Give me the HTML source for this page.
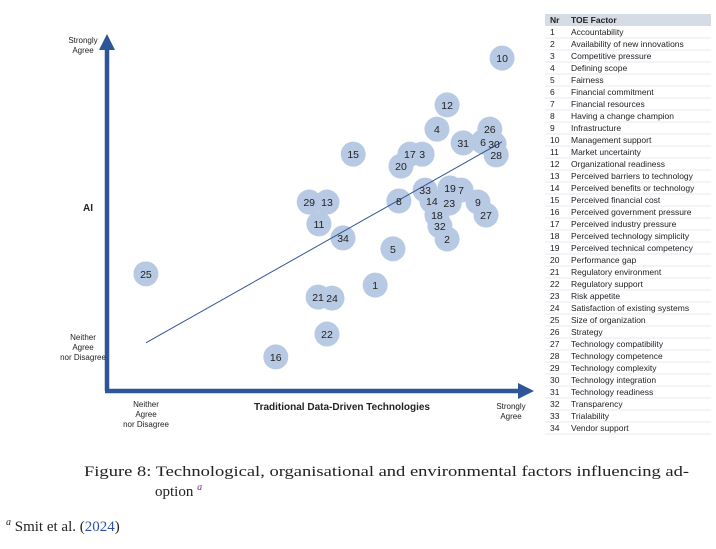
<!DOCTYPE html>
<html><head><meta charset="utf-8"><style>
body{margin:0;background:#fff;width:716px;height:549px;overflow:hidden;font-family:"Liberation Sans",sans-serif}
svg{position:absolute;left:0;top:0}
</style></head><body>
<svg width="716" height="549" viewBox="0 0 716 549">
<g id="plot"></g>
<g>
<line x1="107" y1="391" x2="107" y2="50" stroke="#2e5597" stroke-width="4.5"/>
<polygon points="99,50 115,50 107,34" fill="#2e5597"/>
<line x1="105" y1="391" x2="518" y2="391" stroke="#2e5597" stroke-width="4.5"/>
<polygon points="518,383 518,399 534,391" fill="#2e5597"/>
</g>
<g font-size="8" fill="#222" text-anchor="middle">
<text x="83" y="43"><tspan x="83">Strongly</tspan><tspan x="83" dy="10">Agree</tspan></text>
<text x="88" y="211" font-size="10" font-weight="bold">AI</text>
<text x="83" y="340"><tspan x="83">Neither</tspan><tspan x="83" dy="10">Agree</tspan><tspan x="83" dy="10">nor Disagree</tspan></text>
<text x="146" y="407"><tspan x="146">Neither</tspan><tspan x="146" dy="10">Agree</tspan><tspan x="146" dy="10">nor Disagree</tspan></text>
<text x="342" y="410" font-size="10" font-weight="bold">Traditional Data-Driven Technologies</text>
<text x="511" y="409"><tspan x="511">Strongly</tspan><tspan x="511" dy="10">Agree</tspan></text>
</g>
<g id="table"></g>
<g font-family="Liberation Serif,serif" font-size="15" fill="#222">
<text x="84" y="476" textLength="605" lengthAdjust="spacingAndGlyphs">Figure 8: Technological, organisational and environmental factors influencing ad-</text>
<text x="155" y="496">option <tspan font-style="italic" font-size="10" dy="-6" fill="#7b2d8b">a</tspan></text>
<text x="6" y="531"><tspan font-style="italic" font-size="10" dy="-6">a</tspan><tspan dy="6"> Smit et al. (</tspan><tspan fill="#2d4fa8">2024</tspan>)</text>
</g>
</svg>
<script>
const labels=[10,12,4,26,31,6,30,28,15,17,3,20,33,19,7,14,23,9,8,29,13,18,27,11,32,2,34,5,25,1,21,24,22,16];
const xVals=[93.4,80.4,78.0,90.5,84.2,88.9,91.5,92.0,58.2,71.6,74.5,69.5,75.2,81.1,83.7,76.8,80.9,87.7,69.0,47.8,52.0,78.0,89.6,50.1,78.7,80.4,55.8,67.6,9.2,63.4,49.9,53.2,52.0,39.9];
const yVals=[94.3,81.0,74.1,74.1,70.2,70.5,69.9,66.8,67.0,67.0,67.0,63.6,56.8,57.4,56.8,53.7,53.1,53.4,53.7,53.4,53.4,49.7,49.7,47.2,46.6,42.9,43.2,40.1,33.0,29.8,26.4,26.1,15.9,9.4];
const trendX=[9.2,93.4];
const trendY=[13.4,70.5];
const factorNr=[1,2,3,4,5,6,7,8,9,10,11,12,13,14,15,16,17,18,19,20,21,22,23,24,25,26,27,28,29,30,31,32,33,34];
const factorName=["Accountability","Availability of new innovations","Competitive pressure","Defining scope","Fairness","Financial commitment","Financial resources","Having a change champion","Infrastructure","Management support","Market uncertainty","Organizational readiness","Perceived barriers to technology","Perceived benefits or technology","Perceived financial cost","Perceived government pressure","Perceived industry pressure","Perceived technology simplicity","Perceived technical competency","Performance gap","Regulatory environment","Regulatory support","Risk appetite","Satisfaction of existing systems","Size of organization","Strategy","Technology compatibility","Technology competence","Technology complexity","Technology integration","Technology readiness","Transparency","Trialability","Vendor support"];
const NS="http://www.w3.org/2000/svg";
const xs=v=>107+v*4.23, ys=v=>390-v*3.52;
const plot=document.getElementById('plot');
function mk(tag,attrs,parent){const e=document.createElementNS(NS,tag);for(const k in attrs)e.setAttribute(k,attrs[k]);parent.appendChild(e);return e;}
labels.forEach((l,i)=>{
  const c=mk('circle',{cx:xs(xVals[i]),cy:ys(yVals[i]),r:12.5,fill:'#b8c9e3'},plot);
  
  
});
const tl=mk('line',{x1:xs(trendX[0]),y1:ys(trendY[0]),x2:xs(trendX[1]),y2:ys(trendY[1]),stroke:'#2e5597','stroke-width':1},plot);


labels.forEach((l,i)=>{
  const t=mk('text',{x:xs(xVals[i]),y:ys(yVals[i])+4,'font-size':10.5,'text-anchor':'middle',fill:'#222'},plot);
  t.textContent=l;
  
  
});
const tb=document.getElementById('table');
const h=mk('rect',{x:545,y:14,width:166,height:12,fill:'#d6dce5'},tb);


const h1=mk('text',{x:550,y:23,'font-size':8.5,'font-weight':'bold',fill:'#222'},tb);h1.textContent='Nr';


const h2=mk('text',{x:571,y:23,'font-size':8.5,'font-weight':'bold',fill:'#222'},tb);h2.textContent='TOE Factor';


factorNr.forEach((n,i)=>{
  const y=26+i*12;
  const ln=mk('line',{x1:545,x2:711,y1:y+12,y2:y+12,stroke:'#e6e9ef','stroke-width':1},tb);
  
  
  const a=mk('text',{x:550,y:y+9,'font-size':8.5,fill:'#222'},tb);a.textContent=n;
  
  
  const b=mk('text',{x:571,y:y+9,'font-size':8.5,fill:'#222'},tb);b.textContent=factorName[i];
  
  
});
</script>
</body></html>
